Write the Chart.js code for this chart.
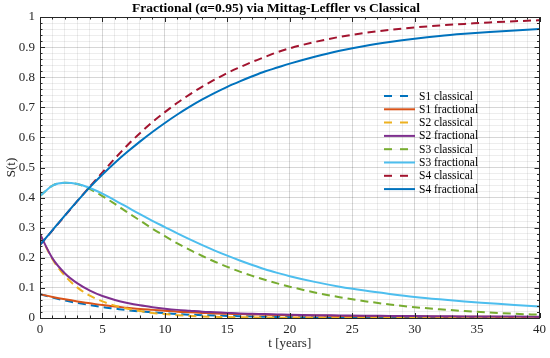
<!DOCTYPE html>
<html>
<head>
<meta charset="utf-8">
<script src="https://cdn.jsdelivr.net/npm/chart.js@4"></script>
<style>
  html, body { margin: 0; padding: 0; background: #fff; }
  #wrap { width: 550px; height: 358px; }
</style>
</head>
<body>
<div id="wrap"><canvas id="chart"></canvas></div>
<script>
// --- DATA ---
const tYears = [0, 1, 2, 3, 4, 5, 6, 7, 8, 9, 10, 11, 12, 13, 14, 15, 16, 17, 18, 19, 20, 22, 24, 26, 28, 30, 32, 34, 36, 38, 40];

const s1Classical  = [0.079, 0.068, 0.058, 0.050, 0.043, 0.036, 0.031, 0.026, 0.022, 0.019, 0.016, 0.013, 0.011, 0.0095, 0.008, 0.007, 0.006, 0.005, 0.004, 0.0035, 0.003, 0.002, 0.0015, 0.001, 0.001, 0.0005, 0.0005, 0, 0, 0, 0];
const s1Fractional = [0.079, 0.070, 0.062, 0.055, 0.049, 0.043, 0.038, 0.034, 0.030, 0.027, 0.024, 0.021, 0.019, 0.017, 0.015, 0.014, 0.013, 0.012, 0.011, 0.010, 0.009, 0.008, 0.007, 0.006, 0.0055, 0.005, 0.0045, 0.004, 0.0038, 0.0035, 0.0033];
const s2Classical  = [0.278, 0.195, 0.140, 0.101, 0.074, 0.055, 0.041, 0.031, 0.023, 0.017, 0.013, 0.0095, 0.007, 0.005, 0.004, 0.003, 0.0025, 0.002, 0.0015, 0.0012, 0.001, 0.0005, 0, 0, 0, 0, 0, 0, 0, 0, 0];
const s2Fractional = [0.278, 0.198, 0.148, 0.115, 0.091, 0.073, 0.060, 0.050, 0.042, 0.036, 0.031, 0.027, 0.024, 0.021, 0.019, 0.017, 0.015, 0.014, 0.013, 0.012, 0.011, 0.0095, 0.0085, 0.0075, 0.007, 0.0063, 0.0058, 0.0053, 0.005, 0.0046, 0.0043];
const s3Classical  = [0.405, 0.440, 0.449, 0.445, 0.428, 0.405, 0.379, 0.351, 0.324, 0.297, 0.272, 0.248, 0.226, 0.206, 0.187, 0.170, 0.154, 0.140, 0.127, 0.115, 0.104, 0.085, 0.069, 0.056, 0.045, 0.036, 0.029, 0.023, 0.018, 0.014, 0.011];
const s3Fractional = [0.405, 0.440, 0.449, 0.445, 0.432, 0.413, 0.391, 0.368, 0.345, 0.323, 0.302, 0.281, 0.261, 0.242, 0.224, 0.207, 0.191, 0.176, 0.162, 0.150, 0.139, 0.120, 0.104, 0.091, 0.080, 0.070, 0.062, 0.055, 0.049, 0.043, 0.038];
const s4Classical  = [0.243, 0.291, 0.340, 0.389, 0.437, 0.484, 0.530, 0.574, 0.614, 0.651, 0.684, 0.715, 0.743, 0.769, 0.792, 0.814, 0.833, 0.851, 0.867, 0.883, 0.896, 0.917, 0.934, 0.947, 0.957, 0.965, 0.972, 0.977, 0.982, 0.986, 0.989];
const s4Fractional = [0.243, 0.292, 0.341, 0.389, 0.435, 0.477, 0.516, 0.552, 0.586, 0.618, 0.648, 0.676, 0.702, 0.726, 0.748, 0.768, 0.786, 0.803, 0.819, 0.832, 0.845, 0.868, 0.888, 0.904, 0.917, 0.928, 0.937, 0.944, 0.950, 0.955, 0.960];

const seriesNames = ['S1 classical', 'S1 fractional', 'S2 classical', 'S2 fractional', 'S3 classical', 'S3 fractional', 'S4 classical', 'S4 fractional'];
const seriesValues = [s1Classical, s1Fractional, s2Classical, s2Fractional, s3Classical, s3Fractional, s4Classical, s4Fractional];
const seriesColors = ['#0072BD', '#D95319', '#EDB120', '#7E2F8E', '#77AC30', '#4DBEEE', '#A2142F', '#0072BD'];

const xTickLabels = [0, 5, 10, 15, 20, 25, 30, 35, 40];
const yTickLabels = [0, 0.1, 0.2, 0.3, 0.4, 0.5, 0.6, 0.7, 0.8, 0.9, 1];

const FONT = '"Liberation Serif", "Times New Roman", serif';
const INK = '#262626';

const datasets = seriesValues.map((vals, i) => ({
    label: seriesNames[i],
    data: tYears.map((t, k) => ({ x: t, y: vals[k] })),
    borderColor: seriesColors[i],
    backgroundColor: seriesColors[i],
    borderWidth: 2,
    borderDash: seriesNames[i].includes('classical') ? [8, 5] : [],
    pointRadius: 0,
    fill: false,
    cubicInterpolationMode: 'monotone',
    order: seriesValues.length - i   // later series on top, like MATLAB
}));

const isMajorX = v => Math.abs(v % 5) < 1e-6;
const isMajorY = v => Math.round(v * 100) % 10 === 0;

// title, axis labels, inner ticks, box, legend
const decorations = {
    id: 'decorations',
    afterDraw(chart) {
        const { ctx, chartArea: a, scales } = chart;
        const xs = scales.x, ys = scales.y;
        ctx.save();

        // inner tick marks (all four sides)
        ctx.strokeStyle = INK;
        ctx.lineWidth = 1;
        ctx.beginPath();
        for (let t = 0; t <= 40; t++) {
            const px = Math.round(xs.getPixelForValue(t)) + 0.5;
            const len = t % 5 === 0 ? 5 : 2.5;
            ctx.moveTo(px, a.bottom); ctx.lineTo(px, a.bottom - len);
            ctx.moveTo(px, a.top); ctx.lineTo(px, a.top + len);
        }
        for (let k = 0; k <= 50; k++) {
            const py = Math.round(ys.getPixelForValue(k / 50)) + 0.5;
            const len = k % 5 === 0 ? 5 : 2.5;
            ctx.moveTo(a.left, py); ctx.lineTo(a.left + len, py);
            ctx.moveTo(a.right, py); ctx.lineTo(a.right - len, py);
        }
        ctx.stroke();

        // box
        ctx.strokeRect(Math.round(a.left) + 0.5, Math.round(a.top) + 0.5,
                       Math.round(a.right - a.left) - 1, Math.round(a.bottom - a.top));

        // title
        ctx.fillStyle = '#000';
        ctx.font = 'bold 13.5px ' + FONT;
        ctx.textAlign = 'center';
        ctx.textBaseline = 'middle';
        ctx.fillText('Fractional (\u03B1=0.95) via Mittag-Leffler vs Classical', 276, 9);

        // axis titles
        ctx.fillStyle = INK;
        ctx.font = '13px ' + FONT;
        ctx.fillText('t [years]', (a.left + a.right) / 2, 344);
        ctx.save();
        ctx.translate(12, (a.top + a.bottom) / 2);
        ctx.rotate(-Math.PI / 2);
        ctx.fillText('S(t)', 0, 0);
        ctx.restore();

        // legend (no box, grid shows through)
        ctx.font = '11.5px ' + FONT;
        ctx.textAlign = 'left';
        chart.data.datasets.forEach((ds, i) => {
            const y = 96 + i * 13.3;
            ctx.strokeStyle = ds.borderColor;
            ctx.lineWidth = 2;
            ctx.setLineDash(ds.borderDash.length ? [8, 8] : []);
            ctx.beginPath();
            ctx.moveTo(384, y); ctx.lineTo(415, y);
            ctx.stroke();
            ctx.setLineDash([]);
            ctx.fillStyle = '#000';
            ctx.fillText(ds.label, 419, y + 0.5);
        });
        ctx.restore();
    }
};

new Chart(document.getElementById('chart'), {
    type: 'line',
    data: { datasets },
    options: {
        responsive: true,
        maintainAspectRatio: false,
        animation: false,
        layout: { padding: { top: 17, right: 9, left: 0, bottom: 0 } },
        plugins: { legend: { display: false }, title: { display: false }, tooltip: { enabled: false } },
        scales: {
            x: {
                type: 'linear', min: 0, max: 40,
                afterFit: s => { s.height = 40; },
                ticks: {
                    stepSize: 1, autoSkip: false, maxRotation: 0, maxTicksLimit: 100, padding: 4,
                    color: INK, font: { family: FONT, size: 13 },
                    callback: v => xTickLabels.includes(Math.round(v)) && isMajorX(v) ? String(Math.round(v)) : ''
                },
                grid: {
                    drawTicks: false,
                    color: c => isMajorX(c.tick.value) ? 'rgba(0,0,0,0.16)' : 'rgba(0,0,0,0.07)'
                },
                border: { display: false }
            },
            y: {
                type: 'linear', min: 0, max: 1,
                afterFit: s => { s.width = 40; },
                ticks: {
                    stepSize: 0.02, autoSkip: false, maxTicksLimit: 100, padding: 5,
                    color: INK, font: { family: FONT, size: 13 },
                    callback: v => {
                        if (!isMajorY(v)) return '';
                        const r = Math.round(v * 10) / 10;
                        return yTickLabels.includes(r) ? String(r) : '';
                    }
                },
                grid: {
                    drawTicks: false,
                    color: c => isMajorY(c.tick.value) ? 'rgba(0,0,0,0.16)' : 'rgba(0,0,0,0.07)'
                },
                border: { display: false }
            }
        }
    },
    plugins: [decorations]
});
</script>
</body>
</html>
